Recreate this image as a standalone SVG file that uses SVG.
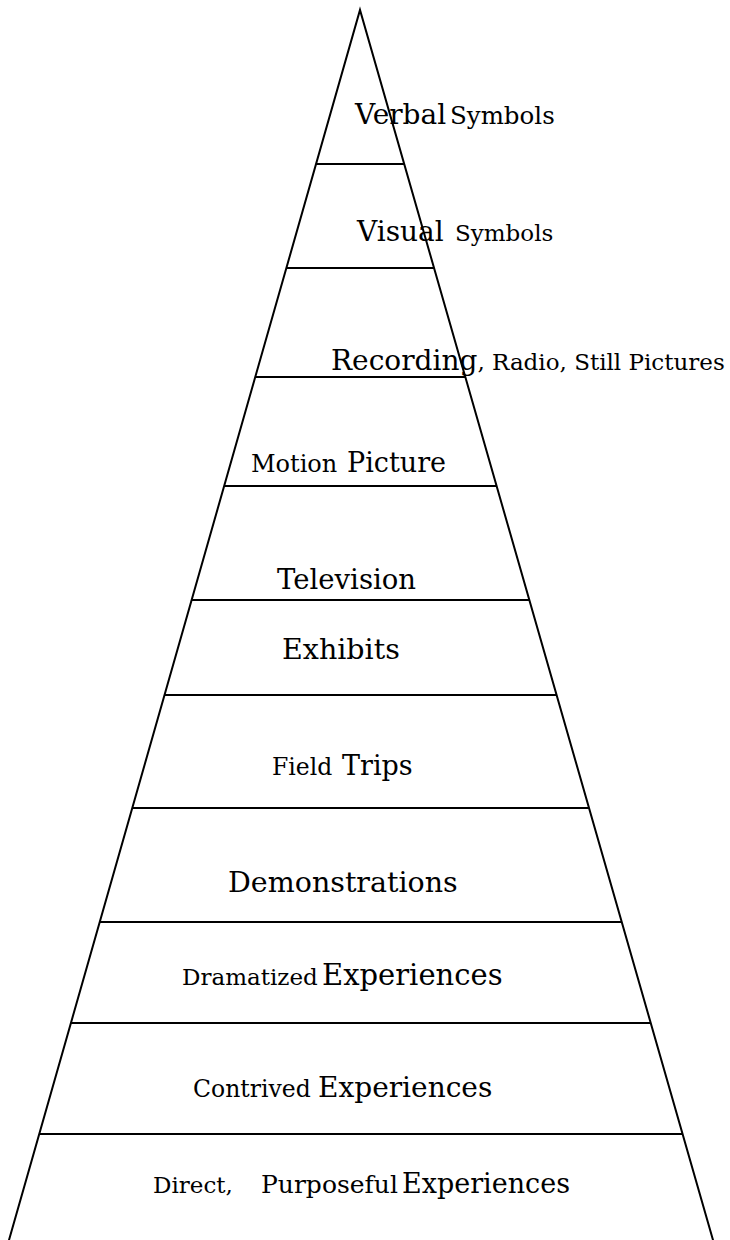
<svg xmlns="http://www.w3.org/2000/svg" width="730" height="1240" viewBox="0 0 730 1240">
<style>
.edge{stroke:#000;stroke-width:2;fill:none;stroke-linecap:round;stroke-linejoin:miter}
.tier{stroke:#000;stroke-width:2}
text{font-family:"DejaVu Serif","Liberation Serif",serif;fill:#000}
.b{font-size:28px}
.s{font-size:23px}
</style>
<rect width="730" height="1240" fill="#fff"/>
<g id="connectors">
<polyline class="edge" points="9,1240 360,10 713,1240"/>
<line class="tier" x1="316" y1="164" x2="404.2" y2="164"/>
<line class="tier" x1="286.4" y1="268" x2="434" y2="268"/>
<line class="tier" x1="255.3" y1="377" x2="465.3" y2="377"/>
<line class="tier" x1="224.1" y1="486" x2="496.6" y2="486"/>
<line class="tier" x1="191.6" y1="600" x2="529.3" y2="600"/>
<line class="tier" x1="164.5" y1="695" x2="556.6" y2="695"/>
<line class="tier" x1="132.3" y1="808" x2="589" y2="808"/>
<line class="tier" x1="99.7" y1="922" x2="621.7" y2="922"/>
<line class="tier" x1="70.9" y1="1023" x2="650.7" y2="1023"/>
<line class="tier" x1="39.2" y1="1134" x2="682.6" y2="1134"/>
</g>
<g id="verbal-symbols"><text y="124"><tspan class="b" x="355">Verbal</tspan><tspan style="font-size:24.5px" x="450">Symbols</tspan></text></g>
<g id="visual-symbols"><text y="241"><tspan class="b" x="357">Visual</tspan><tspan class="s" x="455">Symbols</tspan></text></g>
<g id="recording"><text y="370" x="331"><tspan class="b">Recording</tspan><tspan class="s">, Radio, Still Pictures</tspan></text></g>
<g id="motion-picture"><text y="472"><tspan style="font-size:24px" x="251">Motion</tspan><tspan style="font-size:27px" x="347">Picture</tspan></text></g>
<g id="television"><text y="589" x="277" style="font-size:27.5px">Television</text></g>
<g id="exhibits"><text y="659" x="282" style="font-size:28.5px">Exhibits</text></g>
<g id="field-trips"><text y="775"><tspan style="font-size:23.5px" x="272">Field</tspan><tspan style="font-size:27px" x="342">Trips</tspan></text></g>
<g id="demonstrations"><text y="892" x="228" style="font-size:28.5px">Demonstrations</text></g>
<g id="dramatized"><text y="985"><tspan class="s" x="182">Dramatized</tspan><tspan style="font-size:29px" x="322">Experiences</tspan></text></g>
<g id="contrived"><text y="1097"><tspan style="font-size:23.5px" x="193">Contrived</tspan><tspan class="b" x="318">Experiences</tspan></text></g>
<g id="direct"><text y="1193"><tspan class="s" x="153">Direct,</tspan><tspan style="font-size:25px" x="261">Purposeful</tspan><tspan style="font-size:27px" x="402">Experiences</tspan></text></g>
</svg>
